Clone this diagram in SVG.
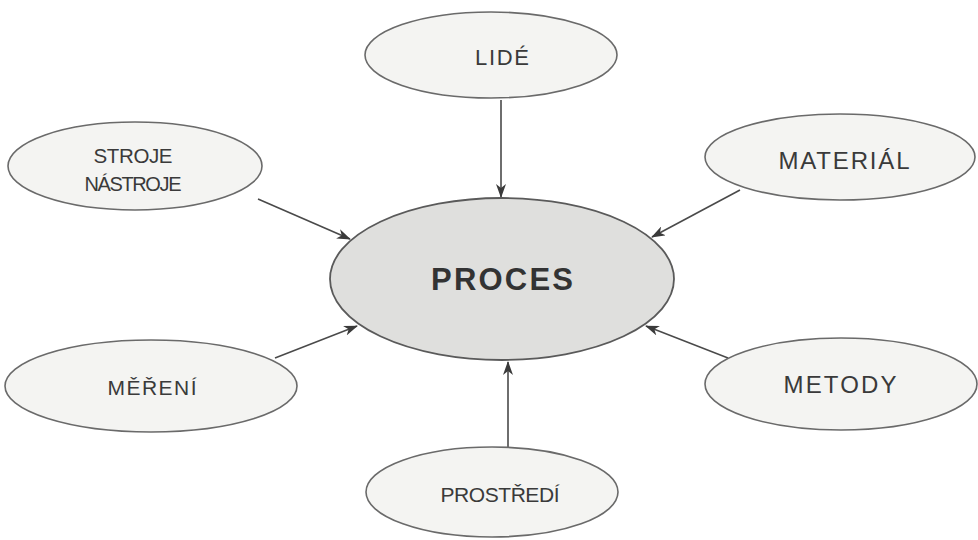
<svg xmlns="http://www.w3.org/2000/svg" width="978" height="540" viewBox="0 0 978 540">
  <defs>
    <style>
      .node { fill: #f4f4f2; stroke: #6a6a6a; stroke-width: 1.6; }
      .core { fill: #dfdfdd; stroke: #5a5a5a; stroke-width: 1.8; }
      .lbl { font-family: "Liberation Sans", Arial, sans-serif; font-size: 21px; fill: #3a3a3a; text-anchor: middle; }
      .big { font-family: "Liberation Sans", Arial, sans-serif; font-size: 31px; font-weight: bold; fill: #333333; text-anchor: middle; }
      .edge { stroke: #4a4a4a; stroke-width: 1.6; fill: none; marker-end: url(#arr); }
    </style>
    <marker id="arr" viewBox="0 0 14 10" refX="13" refY="5" markerWidth="14" markerHeight="10" markerUnits="userSpaceOnUse" orient="auto">
      <path d="M0,0 L14,5 L0,10 L4,5 z" fill="#3a3a3a"/>
    </marker>
  </defs>
  <rect width="978" height="540" fill="#ffffff"/>

  <g id="connectors">
    <line class="edge" x1="501" y1="100" x2="501" y2="197"/>
    <line class="edge" x1="258" y1="199" x2="350" y2="239"/>
    <line class="edge" x1="740" y1="190" x2="652" y2="237"/>
    <line class="edge" x1="275" y1="358" x2="357" y2="326"/>
    <line class="edge" x1="728" y1="358" x2="646" y2="326"/>
    <line class="edge" x1="508" y1="447" x2="508" y2="362"/>
  </g>

  <g id="proces">
    <ellipse class="core" cx="502" cy="279" rx="172" ry="81"/>
    <text class="big" x="502" y="290" textLength="142" lengthAdjust="spacing">PROCES</text>
  </g>
  <g id="lide">
    <ellipse class="node" cx="491" cy="55" rx="126" ry="43"/>
    <text class="lbl" x="502" y="65" style="font-size:22px" textLength="54" lengthAdjust="spacing">LIDÉ</text>
  </g>
  <g id="stroje">
    <ellipse class="node" cx="135" cy="166" rx="127" ry="44"/>
    <text class="lbl" x="133" y="163" style="font-size:20.5px" textLength="79" lengthAdjust="spacing">STROJE</text>
    <text class="lbl" x="133" y="191" style="font-size:20px" textLength="97" lengthAdjust="spacing">NÁSTROJE</text>
  </g>
  <g id="material">
    <ellipse class="node" cx="840" cy="157" rx="135" ry="43"/>
    <text class="lbl" x="844" y="169" style="font-size:24px" textLength="131" lengthAdjust="spacing">MATERIÁL</text>
  </g>
  <g id="mereni">
    <ellipse class="node" cx="151" cy="386" rx="146" ry="46"/>
    <text class="lbl" x="152" y="395" style="font-size:21px" textLength="89" lengthAdjust="spacing">MĚŘENÍ</text>
  </g>
  <g id="metody">
    <ellipse class="node" cx="841" cy="384" rx="136" ry="46"/>
    <text class="lbl" x="840" y="393" style="font-size:24px" textLength="113" lengthAdjust="spacing">METODY</text>
  </g>
  <g id="prostredi">
    <ellipse class="node" cx="492" cy="492" rx="126" ry="45"/>
    <text class="lbl" x="500" y="502" style="font-size:21px" textLength="119" lengthAdjust="spacing">PROSTŘEDÍ</text>
  </g>
</svg>
